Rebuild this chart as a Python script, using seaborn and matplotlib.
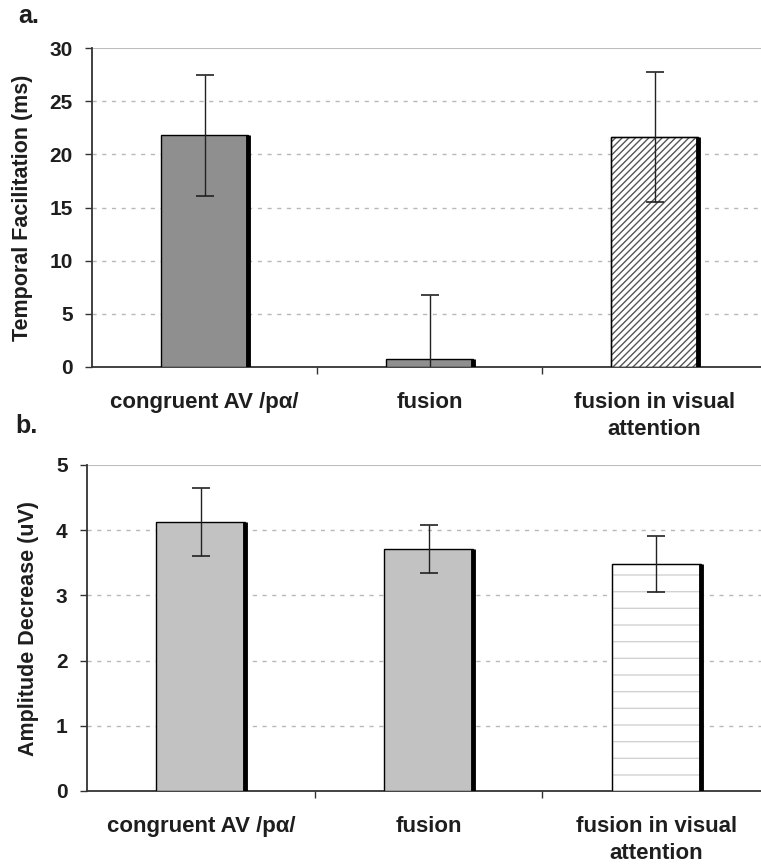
import matplotlib
matplotlib.use("Agg")
import matplotlib.pyplot as plt
import seaborn as sns
import numpy as np
import pandas as pd

categories = ["congruent AV /pα/", "fusion", "fusion in visual\nattention"]
temporal_vals = [21.8, 0.75, 21.6]
temporal_err = [5.7, 6.05, 6.1]
amplitude_vals = [4.13, 3.71, 3.48]
amplitude_err = [0.52, 0.37, 0.43]
temporal_ticks = [0, 5, 10, 15, 20, 25, 30]
amplitude_ticks = [0, 1, 2, 3, 4, 5]

sns.set_theme(style="white")
plt.rcParams['font.family'] = ['Liberation Sans', 'DejaVu Sans']
plt.rcParams['font.weight'] = 'bold'

W, H = 761, 867
fig = plt.figure(figsize=(W / 100, H / 100), dpi=100)

ax_a = fig.add_axes([92 / W, 1 - 367 / H, (767 - 92) / W, (367 - 48) / H])
ax_b = fig.add_axes([87 / W, 1 - 791 / H, (770 - 87) / W, (791 - 465) / H])

TXT = "#1e1e1e"


def draw_panel(ax, vals, errs, ticks, colors, hatches, hatch_colors, ylabel):
    df = pd.DataFrame({"cat": categories, "val": vals})
    sns.barplot(data=df, x="cat", y="val", ax=ax, width=0.39,
                color="gray", errorbar=None, zorder=3)
    for p, c, h, hc in zip(ax.patches, colors, hatches, hatch_colors):
        p.set_facecolor(c)
        p.set_edgecolor("black")
        p.set_linewidth(1.0)
        if h:
            p.set_hatch(h)
            p.set_edgecolor(hc)
            ax.add_patch(plt.Rectangle((p.get_x(), p.get_y()), p.get_width(), p.get_height(),
                                       fill=False, edgecolor="black", lw=1.0, zorder=4))
        xr = p.get_x() + p.get_width()
        ax.plot([xr, xr], [0, p.get_height()], color="black", lw=3.5,
                solid_capstyle="butt", zorder=4)
    xs = np.arange(len(vals))
    ax.errorbar(xs, vals, yerr=errs, fmt="none", ecolor="#222222",
                elinewidth=1.0, capsize=6.5, capthick=1.2, zorder=5)
    ax.set_ylim(ticks[0], ticks[-1])
    ax.set_yticks(ticks)
    ax.set_xlim(-0.5, 2.5)
    for t in ticks[1:-1]:
        ax.axhline(t, color="#b8b8b8", lw=1.0, ls=(0, (3, 4)), zorder=1)
    ax.axhline(ticks[-1], color="#bdbdbd", lw=1.5, zorder=1)
    for s in ["top", "right"]:
        ax.spines[s].set_visible(False)
    ax.spines["left"].set_color("#333333")
    ax.spines["bottom"].set_color("#333333")
    ax.spines["left"].set_linewidth(1.3)
    ax.spines["bottom"].set_linewidth(1.3)
    ax.set_xlabel("")
    ax.set_ylabel(ylabel, fontsize=15.5, fontweight="bold", color=TXT, labelpad=12)
    ax.set_xticks(xs)
    ax.set_xticklabels(categories, fontsize=16, fontweight="bold", color=TXT,
                       linespacing=1.4)
    ax.set_xticks([0.5, 1.5], minor=True)
    ax.tick_params(axis="x", which="major", length=0, pad=18)
    ax.tick_params(axis="x", which="minor", length=5, width=1, color="#333333",
                   direction="out", bottom=True)
    ax.tick_params(axis="y", length=5, width=1, color="#333333", direction="out",
                   left=True, labelsize=15, labelcolor=TXT, pad=9)
    for lab in ax.get_yticklabels():
        lab.set_fontweight("bold")
    ax.grid(False)


draw_panel(ax_a, temporal_vals, temporal_err, temporal_ticks,
           ["#8f8f8f", "#8f8f8f", "white"], [None, None, "/////"],
           [None, None, "#555555"], "Temporal Facilitation (ms)")
draw_panel(ax_b, amplitude_vals, amplitude_err, amplitude_ticks,
           ["#c2c2c2", "#c2c2c2", "white"], [None, None, "-"],
           [None, None, "#d2d2d2"], "Amplitude Decrease (uV)")

fig.text(18 / W, 1 - 16 / H, "a.", fontsize=18, fontweight="bold", va="center", ha="left",
         color=TXT)
fig.text(15 / W, 1 - 426 / H, "b.", fontsize=18, fontweight="bold", va="center", ha="left",
         color=TXT)

fig.savefig("out.png", dpi=100)
